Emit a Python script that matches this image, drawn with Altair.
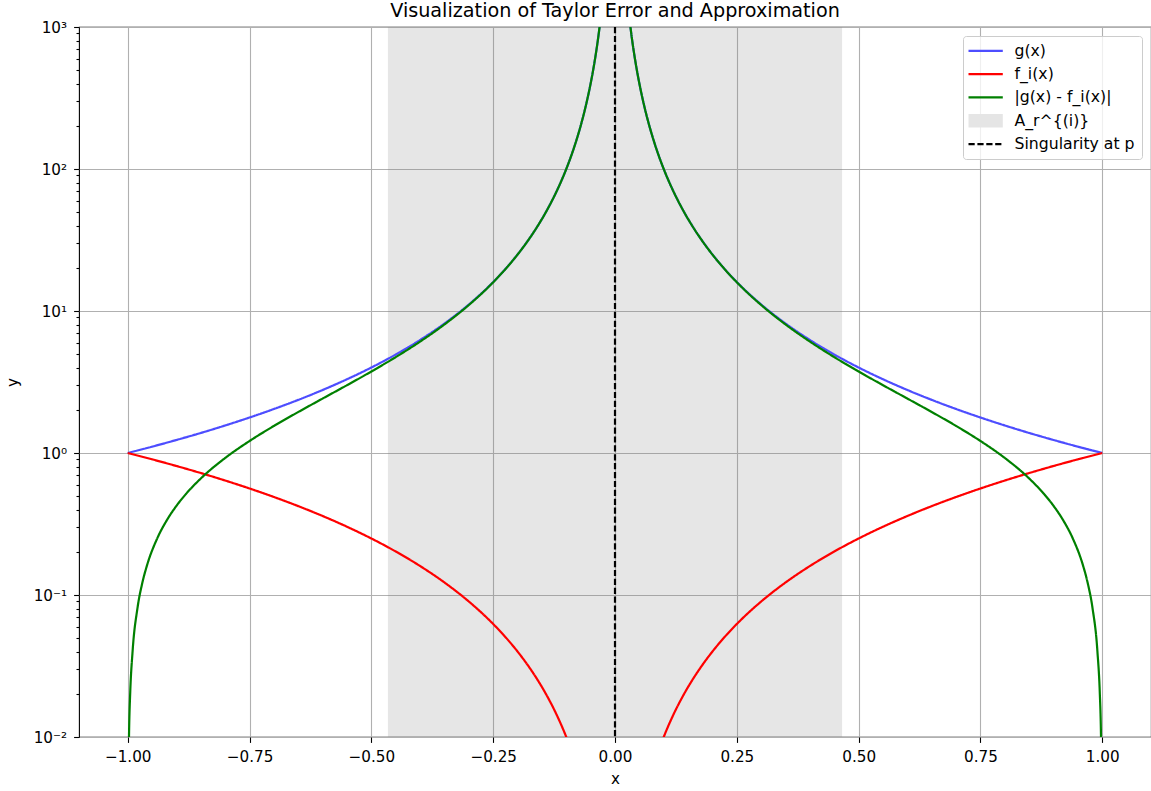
import altair as alt
import pandas as pd

# ---- data ----
series_names = ["g(x)", "f_i(x)", "|g(x) - f_i(x)|", "A_r^{(i)}", "Singularity at p"]
series_colors = ["#4d4dff", "#ff0000", "#008000", "#e5e5e5", "#000000"]

# g(x)
g_x_left = [-1.00, -0.95, -0.90, -0.85, -0.80, -0.75, -0.70, -0.65, -0.60, -0.55, -0.50,
            -0.45, -0.40, -0.35, -0.30, -0.26, -0.23, -0.20, -0.18, -0.16, -0.14, -0.12,
            -0.10, -0.09, -0.08, -0.07, -0.06, -0.05, -0.045, -0.04, -0.035, -0.03]
g_y_left = [1.0, 1.108, 1.235, 1.384, 1.5625, 1.778, 2.041, 2.367, 2.778, 3.306, 4.0,
            4.938, 6.25, 8.163, 11.11, 14.79, 18.90, 25.0, 30.86, 39.06, 51.02, 69.44,
            100.0, 123.5, 156.3, 204.1, 277.8, 400.0, 493.8, 625.0, 816.3, 1111.1]
g_x_right = [0.03, 0.035, 0.04, 0.045, 0.05, 0.06, 0.07, 0.08, 0.09, 0.10, 0.12, 0.14,
             0.16, 0.18, 0.20, 0.23, 0.26, 0.30, 0.35, 0.40, 0.45, 0.50, 0.55, 0.60,
             0.65, 0.70, 0.75, 0.80, 0.85, 0.90, 0.95, 1.00]
g_y_right = [1111.1, 816.3, 625.0, 493.8, 400.0, 277.8, 204.1, 156.3, 123.5, 100.0, 69.44,
             51.02, 39.06, 30.86, 25.0, 18.90, 14.79, 11.11, 8.163, 6.25, 4.938, 4.0,
             3.306, 2.778, 2.367, 2.041, 1.778, 1.5625, 1.384, 1.235, 1.108, 1.0]

# f_i(x)
f_x_left = [-1.00, -0.95, -0.90, -0.85, -0.80, -0.75, -0.70, -0.65, -0.60, -0.55, -0.50,
            -0.45, -0.40, -0.35, -0.30, -0.26, -0.23, -0.20, -0.18, -0.16, -0.14, -0.12,
            -0.10, -0.09, -0.08]
f_y_left = [1.0, 0.9025, 0.81, 0.7225, 0.64, 0.5625, 0.49, 0.4225, 0.36, 0.3025, 0.25,
            0.2025, 0.16, 0.1225, 0.09, 0.0676, 0.0529, 0.04, 0.0324, 0.0256, 0.0196, 0.0144,
            0.0100, 0.0081, 0.0064]
f_x_right = [0.08, 0.09, 0.10, 0.12, 0.14, 0.16, 0.18, 0.20, 0.23, 0.26, 0.30, 0.35, 0.40,
             0.45, 0.50, 0.55, 0.60, 0.65, 0.70, 0.75, 0.80, 0.85, 0.90, 0.95, 1.00]
f_y_right = [0.0064, 0.0081, 0.0100, 0.0144, 0.0196, 0.0256, 0.0324, 0.04, 0.0529, 0.0676,
             0.09, 0.1225, 0.16, 0.2025, 0.25, 0.3025, 0.36, 0.4225, 0.49, 0.5625, 0.64,
             0.7225, 0.81, 0.9025, 1.0]

# |g(x) - f_i(x)|
e_x_left = [-0.999, -0.997, -0.995, -0.99, -0.98, -0.97, -0.96, -0.94, -0.92, -0.90, -0.88,
            -0.85, -0.80, -0.75, -0.70, -0.65, -0.60, -0.55, -0.50, -0.45, -0.40, -0.35,
            -0.30, -0.26, -0.23, -0.20, -0.18, -0.16, -0.14, -0.12, -0.10, -0.09, -0.08,
            -0.07, -0.06, -0.05, -0.045, -0.04, -0.035, -0.03]
e_y_left = [0.0040, 0.0120, 0.0201, 0.0402, 0.0808, 0.1219, 0.1635, 0.2481, 0.3351, 0.4246,
            0.5169, 0.6616, 0.9225, 1.215, 1.551, 1.944, 2.418, 3.003, 3.750, 4.735, 6.090,
            8.041, 11.02, 14.72, 18.85, 24.96, 30.83, 39.04, 51.00, 69.43, 99.99, 123.4,
            156.2, 204.1, 277.8, 400.0, 493.8, 625.0, 816.3, 1111.1]
e_x_right = [0.03, 0.035, 0.04, 0.045, 0.05, 0.06, 0.07, 0.08, 0.09, 0.10, 0.12, 0.14,
             0.16, 0.18, 0.20, 0.23, 0.26, 0.30, 0.35, 0.40, 0.45, 0.50, 0.55, 0.60, 0.65,
             0.70, 0.75, 0.80, 0.85, 0.88, 0.90, 0.92, 0.94, 0.96, 0.97, 0.98, 0.99, 0.995,
             0.997, 0.999]
e_y_right = [1111.1, 816.3, 625.0, 493.8, 400.0, 277.8, 204.1, 156.2, 123.4, 99.99, 69.43,
             51.00, 39.04, 30.83, 24.96, 18.85, 14.72, 11.02, 8.041, 6.090, 4.735, 3.750,
             3.003, 2.418, 1.944, 1.551, 1.215, 0.9225, 0.6616, 0.5169, 0.4246, 0.3351,
             0.2481, 0.1635, 0.1219, 0.0808, 0.0402, 0.0201, 0.0120, 0.0040]

# shaded region A_r^{(i)} and singularity
span_start = [-0.466]
span_end = [0.466]
singularity_x = [0.0]

x_ticks = [-1.00, -0.75, -0.50, -0.25, 0.00, 0.25, 0.50, 0.75, 1.00]
y_ticks = [0.01, 0.1, 1, 10, 100, 1000]
y_minor = [0.02, 0.03, 0.04, 0.05, 0.06, 0.07, 0.08, 0.09,
           0.2, 0.3, 0.4, 0.5, 0.6, 0.7, 0.8, 0.9,
           2, 3, 4, 5, 6, 7, 8, 9,
           20, 30, 40, 50, 60, 70, 80, 90,
           200, 300, 400, 500, 600, 700, 800, 900]

# ---- build tables ----
rows = []
for name, xs, ys, side in [
    ("g(x)", g_x_left, g_y_left, "L"), ("g(x)", g_x_right, g_y_right, "R"),
    ("f_i(x)", f_x_left, f_y_left, "L"), ("f_i(x)", f_x_right, f_y_right, "R"),
    ("|g(x) - f_i(x)|", e_x_left, e_y_left, "L"), ("|g(x) - f_i(x)|", e_x_right, e_y_right, "R"),
]:
    for i, (xv, yv) in enumerate(zip(xs, ys)):
        rows.append({"x": xv, "y": yv, "series": name, "side": side, "order": i})
curves = pd.DataFrame(rows)
span_df = pd.DataFrame({"x0": span_start, "x1": span_end})
sing_df = pd.DataFrame({"x": singularity_x, "series": ["Singularity at p"]})

FONT = "DejaVu Sans"
LW = 2.2
IS_PATCH = "datum.label === 'A_r^{(i)}'"
LEG_KW = dict(
    title=None, orient="none", legendX=884, legendY=9,
    symbolType=alt.ExprRef(IS_PATCH + " ? 'M-2.45,-0.95H2.45V0.95H-2.45Z' : 'M-2.45,0H2.45'"),
    symbolFillColor=alt.ExprRef(IS_PATCH + " ? '#e5e5e5' : 'transparent'"),
    symbolStrokeWidth=alt.ExprRef(IS_PATCH + " ? 0 : " + str(LW)),
    symbolSize=196,
    symbolOffset=7.8, labelOffset=21, labelFontSize=15.7, labelFont=FONT,
    labelColor="black", rowPadding=6.3, padding=7,
    fillColor="rgba(255,255,255,0.8)", strokeColor="#cccccc", cornerRadius=3,
)

x_scale = alt.Scale(domain=[-1.1, 1.1], nice=False, zero=False)
y_scale = alt.Scale(type="log", domain=[0.01, 1000], nice=False)
color_enc = alt.Color("series:N", scale=alt.Scale(domain=series_names, range=series_colors),
                      legend=alt.Legend(**LEG_KW))
dash_enc = alt.StrokeDash("series:N",
                          scale=alt.Scale(domain=series_names,
                                          range=[[1, 0], [1, 0], [1, 0], [1, 0], [6.2, 2.7]]),
                          legend=alt.Legend(**LEG_KW))

x_axis = alt.Axis(values=x_ticks, format=".2f", title="x", grid=True, titlePadding=7)
y_label_expr = ("datum.value >= 999 ? '10³' : datum.value >= 99 ? '10²' : "
                "datum.value >= 9 ? '10¹' : datum.value >= 0.9 ? '10⁰' : "
                "datum.value >= 0.09 ? '10⁻¹' : '10⁻²'")
y_axis = alt.Axis(values=y_ticks, labelExpr=y_label_expr, title="y", grid=True,
                  titlePadding=13, orient="left")

span = alt.Chart(span_df).mark_rect(color="#808080", opacity=0.2).encode(
    x=alt.X("x0:Q", scale=x_scale, axis=x_axis), x2="x1:Q")

lines = alt.Chart(curves).mark_line(strokeWidth=LW, clip=True, interpolate="monotone").encode(
    x=alt.X("x:Q", scale=x_scale, axis=x_axis),
    y=alt.Y("y:Q", scale=y_scale, axis=y_axis),
    color=color_enc, strokeDash=dash_enc,
    detail="side:N", order="order:Q")

minor = alt.Chart(curves).mark_line(opacity=0, clip=True).encode(
    x=alt.X("x:Q", scale=x_scale, axis=x_axis),
    y=alt.Y("y:Q", scale=y_scale,
            axis=alt.Axis(values=y_minor, labels=False, grid=False, tickSize=3,
                          title=None, orient="left", domain=False)),
    detail="side:N", order="order:Q")

rule = alt.Chart(sing_df).mark_rule(strokeWidth=LW).encode(
    x=alt.X("x:Q", scale=x_scale, axis=x_axis),
    color=color_enc, strokeDash=dash_enc)

chart = alt.layer(span, lines, rule, minor).resolve_axis(y="independent").properties(
    width=1072, height=710,
    title=alt.Title("Visualization of Taylor Error and Approximation", frame="group", dy=-1),
    autosize=alt.AutoSizeParams(type="none"),
    padding={"left": 79, "top": 27, "right": 0, "bottom": 54},
).configure_axis(
    labelFont=FONT, titleFont=FONT, labelFontSize=15.2, titleFontSize=15.2,
    titleFontWeight="normal", labelColor="black", titleColor="black",
    tickColor="black", tickWidth=1.1, tickSize=5.4, labelPadding=7,
    gridColor="#b0b0b0", gridWidth=1.1, domain=False,
).configure_view(stroke="black", strokeWidth=1.1).configure_title(
    font=FONT, fontSize=19.2, fontWeight="normal", color="black",
    anchor="middle", baseline="alphabetic", offset=-2,
)

chart.save("out.html", embed_options={"renderer": "svg", "actions": False})
